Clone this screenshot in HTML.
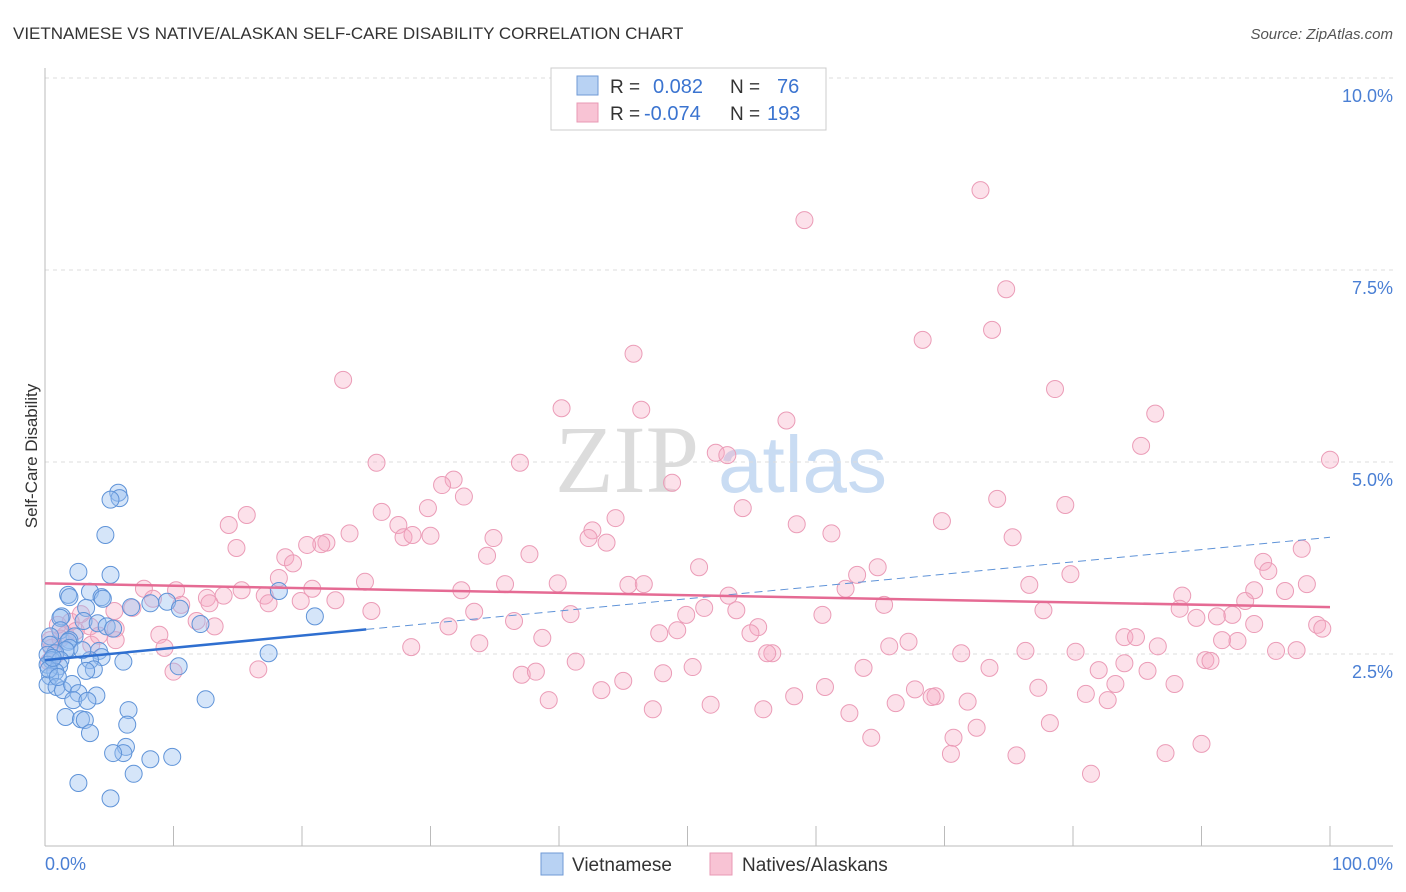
<!DOCTYPE html>
<html><head><meta charset="utf-8">
<style>
body{margin:0;background:#fff;font-family:"Liberation Sans",sans-serif;}
#wrap{position:relative;width:1406px;height:892px;overflow:hidden;}
</style></head>
<body>
<div id="wrap">
<svg id="svg" width="1406" height="892">
<text x="13" y="39" font-size="17" fill="#333">VIETNAMESE VS NATIVE/ALASKAN SELF-CARE DISABILITY CORRELATION CHART</text>
<text x="1393" y="39" font-size="15" fill="#555" font-style="italic" text-anchor="end">Source: ZipAtlas.com</text>
<text x="555" y="492" font-size="96" fill="#dcdcdc" font-family="Liberation Serif,serif">ZIP</text>
<text x="718" y="492" font-size="80" fill="#c9dcf3">atlas</text>
<g id="grid"></g>
<g id="axes"></g>
<g id="pts"></g>
<g id="trend"></g>
<text x="37" y="456" font-size="17" fill="#333" text-anchor="middle" transform="rotate(-90 37 456)">Self-Care Disability</text>
<text x="45" y="870" font-size="18" fill="#4a7fd4">0.0%</text>
<text x="1393" y="870" font-size="18" fill="#4a7fd4" text-anchor="end">100.0%</text>
<g>
<rect x="551" y="68" width="275" height="62" fill="#fff" stroke="#ccc"/>
<rect x="577" y="76" width="21" height="19" fill="#b8d2f3" stroke="#6f9ad6"/>
<rect x="577" y="103" width="21" height="19" fill="#f8c3d4" stroke="#e89ab4"/>
<text x="610" y="93" font-size="19" fill="#333">R =</text>
<text x="653" y="93" font-size="20" fill="#3b74d0">0.082</text>
<text x="730" y="93" font-size="19" fill="#333">N =</text>
<text x="777" y="93" font-size="20" fill="#3b74d0">76</text>
<text x="610" y="120" font-size="19" fill="#333">R =</text>
<text x="644" y="120" font-size="20" fill="#3b74d0">-0.074</text>
<text x="730" y="120" font-size="19" fill="#333">N =</text>
<text x="767" y="120" font-size="20" fill="#3b74d0">193</text>
</g>
<g>
<rect x="541" y="853" width="22" height="22" fill="#b8d2f3" stroke="#6f9ad6"/>
<text x="572" y="871" font-size="19" fill="#333">Vietnamese</text>
<rect x="710" y="853" width="22" height="22" fill="#f8c3d4" stroke="#e89ab4"/>
<text x="742" y="871" font-size="19" fill="#333">Natives/Alaskans</text>
</g>
</svg>
</div>
<script>
const yTicks=[2.5,5.0,7.5,10.0];
const yTickLabels=["2.5%","5.0%","7.5%","10.0%"];
const xTicks=[0,10,20,30,40,50,60,70,80,90,100];
const blueX=[5.7,5.8,5.1,4.7,2.6,5.1,1.8,1.9,3.5,4.4,4.5,6.7,8.2,9.5,10.5,3.2,1.3,1.2,21.0,18.2,3.0,4.1,4.8,12.1,5.3,1.2,2.3,1.9,1.8,0.4,0.4,1.9,1.6,4.2,4.4,0.8,0.2,0.5,0.2,17.4,3.5,1.2,1.1,6.1,3.8,3.2,10.4,0.8,0.4,0.2,0.9,1.4,2.1,2.6,4.0,12.5,2.2,3.3,6.5,1.6,2.8,3.1,6.4,3.5,6.3,6.1,5.3,8.2,9.9,6.9,2.6,5.1,0.3,1.0,2.9,0.6];
const blueY=[4.60,4.53,4.51,4.05,3.57,3.53,3.27,3.24,3.31,3.24,3.22,3.11,3.16,3.18,3.09,3.10,2.99,2.97,2.99,3.32,2.93,2.90,2.86,2.89,2.83,2.81,2.73,2.68,2.66,2.73,2.62,2.58,2.55,2.54,2.46,2.51,2.49,2.42,2.36,2.51,2.42,2.42,2.34,2.40,2.30,2.28,2.34,2.27,2.21,2.10,2.07,2.03,2.11,1.99,1.96,1.91,1.90,1.89,1.77,1.68,1.65,1.64,1.58,1.47,1.29,1.21,1.21,1.13,1.16,0.94,0.82,0.62,2.30,2.20,2.55,2.45];
const pinkX=[72.8,59.1,74.8,73.7,68.3,45.8,23.2,78.6,40.2,46.4,86.4,57.7,85.3,52.2,53.1,100,25.8,36.96,31.8,48.8,30.9,32.6,74.1,79.4,54.3,29.8,26.2,15.7,44.4,14.3,69.8,58.5,27.5,42.6,23.7,61.2,27.9,30.0,28.6,34.9,75.3,42.3,21.9,21.5,43.7,20.4,14.9,97.8,37.7,34.4,18.7,19.3,94.8,50.9,64.8,95.2,63.2,79.8,18.2,24.9,39.9,35.8,45.4,46.6,76.6,98.2,7.7,10.2,15.3,20.8,32.4,62.3,94.1,96.5,88.5,12.6,13.9,17.1,53.2,8.4,22.6,17.4,19.9,6.8,10.6,12.8,65.3,93.4,25.4,33.4,51.3,53.8,77.7,88.3,5.4,40.9,49.9,60.5,89.6,91.2,92.4,36.5,11.8,31.4,94.1,99.0,3.5,55.5,13.2,5.5,99.4,47.8,54.9,49.2,8.9,1.6,38.7,84.0,84.9,5.5,67.2,91.6,92.8,28.5,33.8,65.7,86.6,56.6,56.2,71.3,76.3,80.2,95.8,97.4,9.3,90.3,90.7,84.0,41.3,50.4,63.7,73.5,82.0,85.8,16.6,10.0,37.1,38.2,48.1,87.9,83.3,45.0,60.7,43.3,67.7,77.3,81.0,69.3,69.0,58.3,82.7,39.2,71.8,66.2,51.8,55.9,47.3,62.6,72.5,78.2,70.7,64.3,90.0,87.2,70.5,75.6,81.4,0.5,0.4,0.8,0.3,2.0,2.8,2.4,1.2,3.6,4.2,1.0];
const pinkY=[8.54,8.15,7.25,6.72,6.59,6.41,6.07,5.95,5.70,5.68,5.63,5.54,5.21,5.12,5.09,5.03,4.99,4.99,4.77,4.73,4.70,4.55,4.52,4.44,4.40,4.40,4.35,4.31,4.27,4.18,4.23,4.19,4.18,4.11,4.07,4.07,4.02,4.04,4.05,4.01,4.02,4.01,3.95,3.93,3.95,3.92,3.88,3.87,3.80,3.78,3.76,3.68,3.70,3.63,3.63,3.58,3.53,3.54,3.49,3.44,3.42,3.41,3.40,3.41,3.40,3.41,3.35,3.33,3.33,3.35,3.33,3.35,3.33,3.32,3.26,3.23,3.26,3.26,3.26,3.22,3.20,3.16,3.19,3.10,3.14,3.16,3.14,3.19,3.06,3.05,3.10,3.07,3.07,3.09,3.06,3.02,3.01,3.01,2.97,2.99,3.01,2.93,2.93,2.86,2.89,2.88,2.86,2.85,2.86,2.83,2.83,2.77,2.77,2.81,2.75,2.75,2.71,2.72,2.72,2.68,2.66,2.68,2.67,2.59,2.64,2.60,2.60,2.51,2.51,2.51,2.54,2.53,2.54,2.55,2.58,2.42,2.41,2.38,2.40,2.33,2.32,2.32,2.29,2.28,2.30,2.27,2.23,2.27,2.25,2.11,2.11,2.15,2.07,2.03,2.04,2.06,1.98,1.95,1.94,1.95,1.90,1.90,1.88,1.86,1.84,1.78,1.78,1.73,1.54,1.60,1.41,1.41,1.33,1.21,1.20,1.18,0.94,2.58,2.68,2.48,2.40,2.92,3.02,2.80,2.70,2.62,2.74,2.88];
const blueTrend=[2.42,0.016];   // intercept, slope
const pinkTrend=[3.42,-0.0031];
const blueSolidEnd=25;

const X0=45,X1=1330,Y0=846,PER=76.8;
const sx=v=>X0+(X1-X0)*v/100;
const sy=v=>Y0-v*PER;
const NS="http://www.w3.org/2000/svg";
function mk(tag,attrs,parent){const e=document.createElementNS(NS,tag);for(const k in attrs)e.setAttribute(k,attrs[k]);parent.appendChild(e);return e;}
const grid=document.getElementById('grid'),axes=document.getElementById('axes'),pts=document.getElementById('pts'),trend=document.getElementById('trend');
yTicks.forEach((t,i)=>{
  const l=mk('line',{x1:X0,x2:1393,y1:sy(t),y2:sy(t),stroke:'#ddd','stroke-dasharray':'4,4'},grid);
  
  
  const tx=mk('text',{x:1393,y:sy(t)+24,'font-size':18,fill:'#4a7fd4','text-anchor':'end'},grid);
  tx.textContent=yTickLabels[i];
  
  
});
const ya=mk('line',{x1:X0,x2:X0,y1:68,y2:Y0,stroke:'#bbb'},axes);


const xa=mk('line',{x1:X0,x2:1393,y1:Y0,y2:Y0,stroke:'#bbb'},axes);


xTicks.forEach(t=>{
  const l=mk('line',{x1:sx(t),x2:sx(t),y1:826,y2:Y0,stroke:'#bbb'},axes);
  
  
});
pinkX.forEach((x,i)=>{
  const c=mk('circle',{cx:sx(x),cy:sy(pinkY[i]),r:8.5,fill:'rgba(246,170,196,0.35)',stroke:'#eb9cb7','stroke-width':1},pts);
  
  
});
blueX.forEach((x,i)=>{
  const c=mk('circle',{cx:sx(x),cy:sy(blueY[i]),r:8.5,fill:'rgba(150,190,240,0.4)',stroke:'#5f93d8','stroke-width':1},pts);
  
  
});
const bt=x=>blueTrend[0]+blueTrend[1]*x, pt=x=>pinkTrend[0]+pinkTrend[1]*x;
const b1=mk('line',{x1:sx(0),y1:sy(bt(0)),x2:sx(blueSolidEnd),y2:sy(bt(blueSolidEnd)),stroke:'#2f6fd0','stroke-width':2.5},trend);


const b2=mk('line',{x1:sx(blueSolidEnd),y1:sy(bt(blueSolidEnd)),x2:sx(100),y2:sy(bt(100)),stroke:'#5f93d8','stroke-width':1,'stroke-dasharray':'8,5'},trend);


const p1=mk('line',{x1:sx(0),y1:sy(pt(0)),x2:sx(100),y2:sy(pt(100)),stroke:'#e56b94','stroke-width':2.5},trend);


</script>
</body></html>
